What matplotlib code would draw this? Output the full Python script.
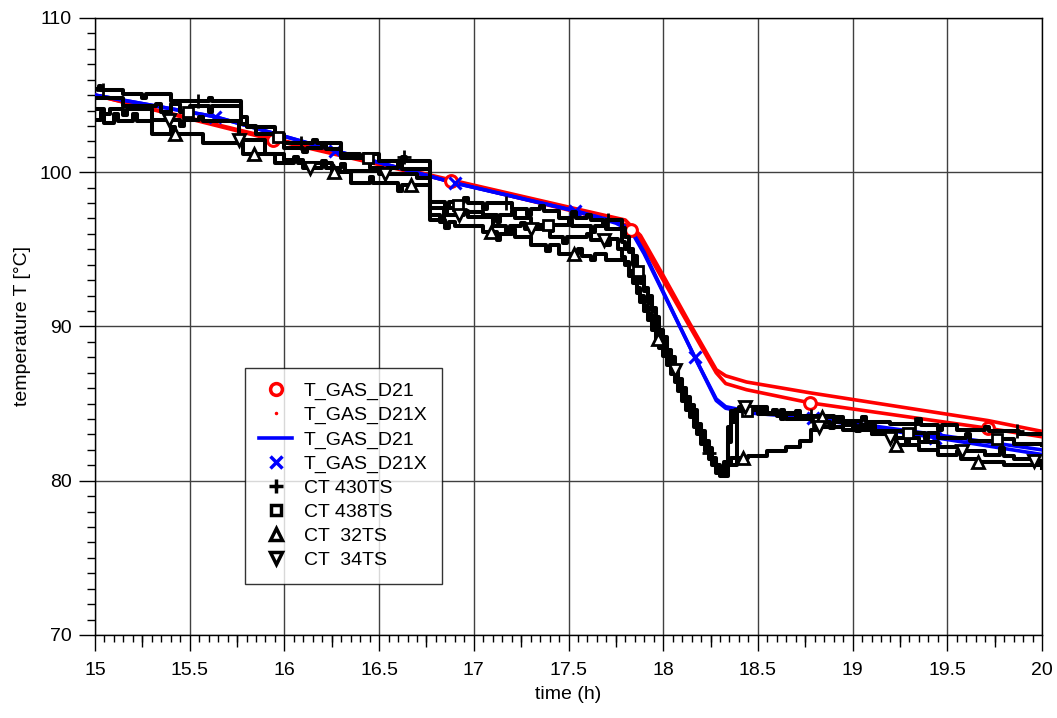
import numpy as np
import matplotlib
matplotlib.use("Agg")
import matplotlib.pyplot as plt
from matplotlib.lines import Line2D
from matplotlib.ticker import MultipleLocator, FixedLocator, NullLocator, FuncFormatter

plt.rcParams['font.family'] = ['Liberation Sans', 'DejaVu Sans']

# ---- simulated gas temperature (red) ----
red_t = [15.0, 15.94, 16.88, 17.55, 17.80, 17.88, 18.00, 18.14, 18.28, 18.33, 18.44, 18.775, 19.715, 20.0]
red_d21 = [105.0, 102.1, 99.4, 97.4, 96.6, 95.6, 93.0, 90.0, 87.0, 86.3, 85.9, 85.05, 83.4, 82.85]
red_d21x = [105.0, 102.2, 99.5, 97.6, 96.9, 95.9, 93.3, 90.2, 87.2, 86.8, 86.4, 85.7, 83.9, 83.2]
red_mark_t = [15.94, 16.88, 17.83, 18.775, 19.715]

# ---- simulated gas temperature (blue) ----
blue_t = [15.0, 15.633, 16.267, 16.9, 17.533, 17.75, 17.83, 17.90, 18.167, 18.28, 18.33, 18.45, 18.757, 19.433, 20.0]
blue_d21 = [105.0, 103.6, 101.4, 99.3, 97.5, 96.8, 96.3, 94.8, 88.0, 85.3, 84.8, 84.5, 84.15, 83.0, 82.0]
blue_d21x = [105.0, 103.6, 101.4, 99.3, 97.5, 96.7, 96.2, 94.7, 88.0, 85.2, 84.7, 84.4, 84.1, 82.8, 81.7]
blue_mark_t = [15.633, 16.267, 16.9, 17.533, 18.167, 18.79, 19.433]

# ---- thermocouple readings: (time h, held value °C) ----
ct430 = [(15.00, 105.4), (15.02, 105.6), (15.03, 105.3), (15.15, 105.1), (15.25, 104.8), (15.27, 105.1),
         (15.40, 104.6), (15.60, 104.8), (15.62, 104.6), (15.77, 103.6), (15.80, 103.0), (15.85, 102.5),
         (16.00, 101.9), (16.15, 102.1), (16.17, 101.9), (16.30, 101.2), (16.40, 100.9), (16.42, 101.2),
         (16.50, 100.7), (16.62, 101.0), (16.64, 100.7), (16.77, 98.1), (16.85, 97.7), (16.87, 98.1),
         (16.95, 98.3), (16.97, 98.0), (17.05, 97.6), (17.07, 98.0), (17.20, 97.6), (17.28, 97.2),
         (17.30, 97.6), (17.35, 97.8), (17.37, 97.5), (17.45, 97.0), (17.52, 97.4), (17.54, 97.0),
         (17.60, 97.2), (17.62, 96.9), (17.68, 96.6), (17.70, 96.9), (17.78, 96.4), (17.80, 95.8),
         (17.82, 95.0), (17.84, 94.6), (17.86, 93.8), (17.88, 93.3), (17.90, 92.5), (17.92, 92.0),
         (17.94, 91.2), (17.96, 90.6), (17.98, 89.8), (18.00, 89.3), (18.02, 88.5), (18.04, 88.0),
         (18.06, 87.2), (18.08, 86.6), (18.10, 85.9), (18.12, 85.3), (18.14, 84.6), (18.16, 84.0),
         (18.18, 83.4), (18.20, 82.8), (18.22, 82.3), (18.24, 81.8), (18.26, 81.2), (18.28, 80.8),
         (18.30, 80.4), (18.32, 81.0), (18.39, 84.6), (18.55, 84.3), (18.62, 84.6), (18.64, 84.3),
         (18.70, 84.5), (18.72, 84.2), (18.90, 83.9), (19.05, 84.1), (19.07, 83.8), (19.20, 83.7),
         (19.34, 84.0), (19.36, 83.6), (19.45, 83.3), (19.47, 83.6), (19.55, 83.3), (19.70, 83.5),
         (19.72, 83.2), (19.88, 83.0), (20.00, 83.0)]
ct430_mark_t = [15.04, 15.545, 16.09, 16.63, 17.17, 17.71, 18.24, 18.78, 19.33, 19.87]

ct438 = [(15.00, 104.8), (15.15, 104.3), (15.32, 104.4), (15.35, 103.9), (15.40, 104.4), (15.45, 103.9),
         (15.50, 104.3), (15.60, 103.9), (15.62, 104.3), (15.77, 103.1), (15.80, 102.9), (15.95, 102.3),
         (16.00, 101.6), (16.10, 101.3), (16.12, 101.6), (16.20, 101.9), (16.22, 101.5), (16.30, 100.9),
         (16.45, 100.3), (16.52, 100.0), (16.54, 100.3), (16.60, 100.6), (16.62, 100.2), (16.77, 97.7),
         (16.84, 97.2), (16.86, 97.7), (16.90, 97.9), (16.92, 97.4), (17.05, 97.2), (17.12, 96.8),
         (17.14, 97.2), (17.20, 97.5), (17.22, 97.0), (17.30, 96.6), (17.40, 96.2), (17.42, 96.6),
         (17.50, 96.9), (17.52, 96.5), (17.62, 96.1), (17.64, 96.5), (17.70, 96.3), (17.78, 95.5),
         (17.80, 95.0), (17.82, 94.8), (17.84, 94.0), (17.86, 93.6), (17.88, 92.8), (17.90, 92.3),
         (17.92, 91.5), (17.94, 91.0), (17.96, 90.2), (17.98, 89.7), (18.00, 88.9), (18.02, 88.4),
         (18.04, 87.6), (18.06, 87.0), (18.08, 86.3), (18.10, 85.8), (18.12, 85.0), (18.14, 84.6),
         (18.18, 83.6), (18.20, 83.0), (18.22, 82.4), (18.24, 81.8), (18.26, 81.3), (18.28, 80.6),
         (18.32, 80.3), (18.34, 83.5), (18.36, 84.5), (18.45, 84.8), (18.50, 84.3), (18.58, 84.6),
         (18.60, 84.2), (18.65, 84.0), (18.80, 83.8), (18.88, 83.4), (18.90, 83.8), (19.00, 83.4),
         (19.10, 83.6), (19.12, 83.2), (19.29, 83.1), (19.38, 82.7), (19.40, 83.1), (19.45, 82.8),
         (19.60, 83.0), (19.62, 82.6), (19.76, 82.7), (19.85, 82.4), (20.00, 82.3)]
ct438_mark_t = [15.49, 15.965, 16.44, 16.915, 17.39, 17.865, 18.44, 18.815, 19.29, 19.765]

ct32 = [(15.00, 103.4), (15.03, 103.9), (15.05, 103.2), (15.10, 103.8), (15.12, 103.3), (15.20, 103.8),
        (15.22, 103.3), (15.30, 102.5), (15.40, 102.9), (15.42, 102.5), (15.57, 101.9), (15.78, 101.2),
        (15.95, 100.6), (16.05, 101.0), (16.07, 100.6), (16.25, 100.0), (16.35, 99.3), (16.45, 99.7),
        (16.47, 99.3), (16.60, 98.8), (16.62, 99.2), (16.77, 96.9), (16.85, 96.4), (16.87, 96.8),
        (16.90, 96.5), (17.05, 96.1), (17.12, 95.6), (17.14, 96.0), (17.20, 96.3), (17.22, 95.8),
        (17.30, 95.3), (17.38, 94.9), (17.40, 95.3), (17.45, 94.7), (17.55, 95.0), (17.57, 94.6),
        (17.62, 94.3), (17.64, 94.7), (17.70, 94.3), (17.80, 94.0), (17.82, 93.3), (17.84, 92.8),
        (17.86, 92.2), (17.88, 91.6), (17.90, 91.0), (17.92, 90.4), (17.94, 89.8), (17.96, 89.2),
        (17.98, 88.6), (18.00, 88.1), (18.02, 87.5), (18.04, 86.9), (18.06, 86.4), (18.08, 85.8),
        (18.10, 85.2), (18.12, 84.6), (18.14, 84.1), (18.16, 83.5), (18.18, 83.0), (18.20, 82.4),
        (18.22, 81.9), (18.24, 81.4), (18.26, 81.0), (18.28, 80.5), (18.30, 80.3), (18.33, 81.0),
        (18.36, 81.5), (18.45, 81.6), (18.55, 81.9), (18.65, 82.2), (18.72, 82.6), (18.78, 83.3),
        (18.82, 84.1), (18.95, 83.6), (19.02, 83.2), (19.04, 83.6), (19.10, 83.0), (19.23, 82.3),
        (19.35, 82.0), (19.45, 81.7), (19.55, 81.9), (19.57, 81.4), (19.66, 81.2), (19.80, 81.0),
        (20.00, 80.8)]
ct32_mark_t = [15.42, 15.84, 16.26, 16.67, 17.09, 17.53, 17.97, 18.42, 18.84, 19.23, 19.66]

ct34 = [(15.00, 104.1), (15.05, 103.8), (15.08, 104.1), (15.15, 103.7), (15.17, 104.1), (15.30, 103.4),
        (15.45, 103.0), (15.47, 103.4), (15.55, 103.6), (15.57, 103.3), (15.76, 102.1), (15.90, 101.2),
        (16.00, 100.8), (16.10, 100.3), (16.20, 100.7), (16.22, 100.3), (16.30, 100.5), (16.32, 100.1),
        (16.50, 99.9), (16.70, 99.6), (16.77, 97.2), (16.82, 96.8), (16.84, 97.2), (16.95, 97.5),
        (16.97, 97.1), (17.10, 96.5), (17.17, 96.1), (17.19, 96.5), (17.25, 96.7), (17.27, 96.3),
        (17.40, 95.8), (17.47, 95.4), (17.49, 95.8), (17.60, 96.0), (17.62, 95.6), (17.70, 95.3),
        (17.72, 95.7), (17.76, 95.0), (17.78, 94.5), (17.80, 94.2), (17.82, 93.6), (17.84, 93.2),
        (17.86, 92.5), (17.88, 92.0), (17.90, 91.3), (17.92, 90.8), (17.94, 90.1), (17.96, 89.6),
        (17.98, 89.0), (18.00, 88.6), (18.02, 88.0), (18.04, 87.6), (18.06, 87.2), (18.08, 86.5),
        (18.10, 86.0), (18.12, 85.4), (18.14, 84.9), (18.16, 84.3), (18.18, 83.7), (18.20, 83.2),
        (18.22, 82.6), (18.24, 82.1), (18.26, 81.5), (18.28, 81.0), (18.30, 80.6), (18.32, 81.2),
        (18.34, 82.5), (18.36, 83.8), (18.38, 84.6), (18.40, 84.8), (18.55, 84.4), (18.62, 84.0),
        (18.64, 84.4), (18.70, 84.1), (18.82, 83.5), (18.95, 83.3), (19.10, 83.0), (19.20, 82.8),
        (19.28, 82.4), (19.30, 82.8), (19.35, 82.5), (19.45, 82.2), (19.58, 81.9), (19.70, 81.7),
        (19.78, 82.1), (19.80, 81.6), (19.85, 81.4), (19.95, 81.3), (20.00, 81.3)]
ct34_mark_t = [15.39, 15.76, 16.135, 16.53, 16.92, 17.30, 17.69, 18.06, 18.43, 18.82, 19.20, 19.58, 19.96]

labels = ['T_GAS_D21', 'T_GAS_D21X', 'T_GAS_D21', 'T_GAS_D21X',
          'CT 430TS', 'CT 438TS', 'CT  32TS', 'CT  34TS']


def held_value(t, v, tq):
    """Value of a held (step) trace at the query times."""
    t = np.asarray(t)
    v = np.asarray(v)
    idx = np.searchsorted(t, tq, side='right') - 1
    return v[np.clip(idx, 0, len(v) - 1)]


fig = plt.figure(figsize=(10.57, 7.18), dpi=100)
ax = fig.add_axes([0.0899, 0.1156, 0.8959, 0.8594])

RED = '#ff0000'
BLUE = '#0000ff'
lw = 2.6

ax.plot(red_t, red_d21x, color=RED, lw=lw, zorder=3)
ax.plot(red_t, red_d21, color=RED, lw=lw, zorder=3)
ax.plot(red_mark_t, np.interp(red_mark_t, red_t, red_d21), ls='none', marker='o', ms=8.5,
        mfc='white', mec=RED, mew=2.2, zorder=4)

ax.plot(blue_t, blue_d21, color=BLUE, lw=lw, zorder=3)
ax.plot(blue_t, blue_d21x, color=BLUE, lw=lw, zorder=3)
ax.plot(blue_mark_t, np.interp(blue_mark_t, blue_t, blue_d21x), ls='none', marker='x', ms=8,
        mec=BLUE, mew=2.2, zorder=4)

series = [
    (ct430, ct430_mark_t, '+', 10),
    (ct438, ct438_mark_t, 's', 7),
    (ct32, ct32_mark_t, '^', 9),
    (ct34, ct34_mark_t, 'v', 9),
]
for pts, mt, mk, ms in series:
    t, v = zip(*pts)
    ax.plot(t, v, color='black', lw=2.9, drawstyle='steps-post', zorder=5)
    ax.plot(mt, held_value(t, v, mt), ls='none', marker=mk, ms=ms, mfc='white', mec='black',
            mew=2.0, zorder=6)

ax.set_xlim(15, 20)
ax.set_ylim(70, 110)

ax.xaxis.set_major_locator(MultipleLocator(0.5))
ax.xaxis.set_minor_locator(MultipleLocator(0.05))
ax.yaxis.set_major_locator(MultipleLocator(10))
ax.yaxis.set_minor_locator(MultipleLocator(1))
ax.xaxis.set_major_formatter(FuncFormatter(lambda x, p: f'{x:g}'))

ax.tick_params(axis='both', which='major', direction='out', length=11.5, width=1.0,
               labelsize=14, colors='black')
ax.tick_params(axis='x', which='major', pad=8)
ax.tick_params(axis='y', which='major', pad=5)
ax.tick_params(axis='x', which='minor', direction='out', length=5, width=1.0)
ax.tick_params(axis='y', which='minor', direction='out', length=5.8, width=1.0)

# quarter-hour ticks, a bit longer than the minor ones
sec = ax.secondary_xaxis('bottom')
sec.xaxis.set_major_locator(FixedLocator([15.25, 15.75, 16.25, 16.75, 17.25, 17.75,
                                          18.25, 18.75, 19.25, 19.75]))
sec.xaxis.set_minor_locator(NullLocator())
sec.tick_params(axis='x', which='major', direction='out', length=8.5, width=1.0, labelbottom=False)
sec.spines['bottom'].set_visible(False)

ax.grid(True, which='major', color='#404040', lw=1.0)
ax.set_axisbelow(True)
for s in ax.spines.values():
    s.set_linewidth(1.0)

ax.set_xlabel('time (h)', fontsize=14, labelpad=5)
ax.set_ylabel('temperature T [°C]', fontsize=14, labelpad=6)

handles = [
    Line2D([], [], ls='none', marker='o', ms=8.5, mfc='white', mec=RED, mew=2.5),
    Line2D([], [], ls='none', marker='.', ms=3, color=RED),
    Line2D([], [], color=BLUE, lw=2.6),
    Line2D([], [], ls='none', marker='x', ms=8, mec=BLUE, mew=2.5),
    Line2D([], [], ls='none', marker='+', ms=10, mec='black', mew=2.5),
    Line2D([], [], ls='none', marker='s', ms=7, mfc='white', mec='black', mew=2.5),
    Line2D([], [], ls='none', marker='^', ms=9, mfc='white', mec='black', mew=2.5),
    Line2D([], [], ls='none', marker='v', ms=9, mfc='white', mec='black', mew=2.5),
]
leg = ax.legend(handles, labels, loc='upper left', bbox_to_anchor=(0.158, 0.433),
                fontsize=14, frameon=True, fancybox=False, edgecolor='black',
                handlelength=1.7, handletextpad=0.6, labelspacing=0.33, borderpad=0.75,
                borderaxespad=0)
leg.get_frame().set_linewidth(1.0)
leg.set_zorder(10)

fig.savefig('out.png', dpi=100)
